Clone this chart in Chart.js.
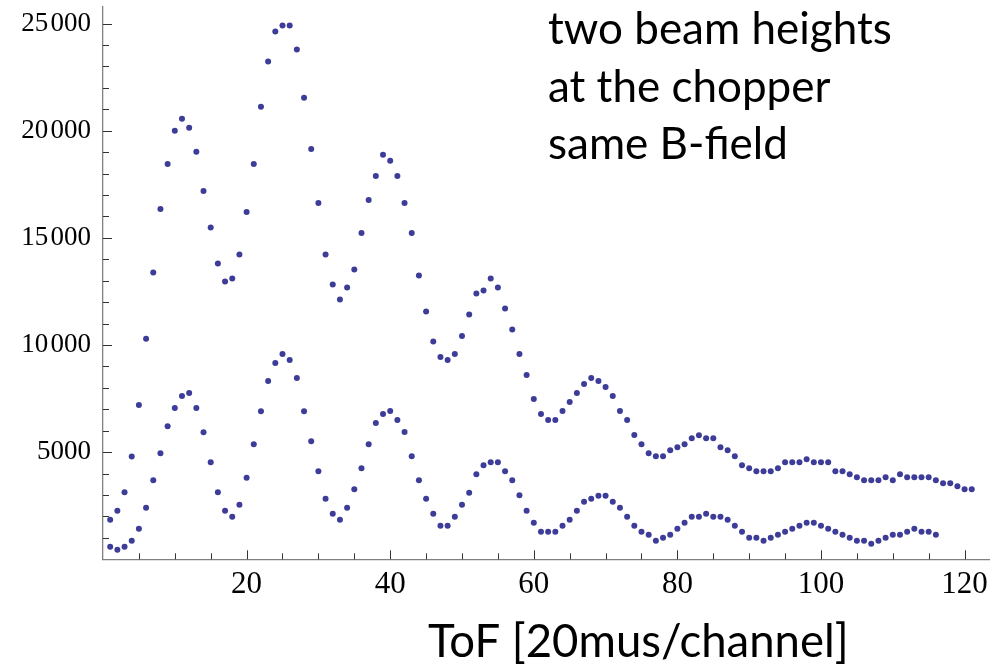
<!DOCTYPE html>
<html>
<head>
<meta charset="utf-8">
<script src="https://cdn.jsdelivr.net/npm/chart.js@4.4.1/dist/chart.umd.min.js"></script>
<style>
html, body { margin: 0; padding: 0; background: #fff; }
</style>
</head>
<body>
<canvas id="grafico" width="1003" height="667"></canvas>
<script>
// contagens por canal (canal 1, 2, 3, ...)
const feixeAlto = [
  1850, 2270, 3130, 4800, 7200, 10290, 13380, 16340, 18450, 20000,
  20560, 20140, 19020, 17180, 15480, 13800, 12960, 13100, 14220, 16200,
  18450, 21120, 23230, 24630, 24910, 24910, 23790, 21540, 19150, 16630,
  14220, 12820, 12120, 12680, 13520, 15220, 16760, 17880, 18880, 18600,
  17880, 16620, 15220, 13240, 11560, 10160, 9440, 9300, 9580, 10420,
  11420, 12400, 12540, 13100, 12680, 11700, 10720, 9580, 8600, 7480,
  6780, 6500, 6500, 6920, 7340, 7760, 8180, 8460, 8320, 8040,
  7620, 6920, 6500, 5800, 5370, 4950, 4810, 4810, 5090, 5230,
  5370, 5650, 5790, 5650, 5650, 5230, 5090, 4810, 4390, 4250,
  4110, 4110, 4110, 4250, 4530, 4530, 4530, 4670, 4530, 4530,
  4530, 4110, 4110, 3970, 3830, 3690, 3690, 3690, 3830, 3690,
  3970, 3830, 3830, 3830, 3830, 3690, 3550, 3550, 3410, 3270,
  3270
];
const feixeBaixo = [
  590, 450, 590, 870, 1430, 2410, 3690, 4950, 6210, 7060,
  7620, 7760, 7060, 5930, 4530, 3130, 2270, 1990, 2550, 3810,
  5370, 6910, 8320, 9160, 9580, 9300, 8460, 6910, 5510, 4110,
  2830, 2130, 1850, 2410, 3270, 4250, 5370, 6360, 6780, 6920,
  6500, 5940, 4810, 3690, 2830, 2130, 1570, 1570, 1990, 2550,
  3110, 3970, 4390, 4530, 4530, 4110, 3690, 2990, 2270, 1710,
  1290, 1290, 1290, 1570, 1850, 2270, 2690, 2830, 2970, 2970,
  2690, 2410, 1990, 1570, 1290, 1150, 870, 1010, 1150, 1430,
  1710, 1990, 1990, 2130, 1990, 1990, 1850, 1570, 1290, 1010,
  1010, 870, 1010, 1150, 1290, 1430, 1570, 1710, 1710, 1570,
  1430, 1290, 1150, 1010, 870, 870, 730, 870, 1010, 1150,
  1150, 1290, 1430, 1290, 1290, 1150
];

const xTicks = [20, 40, 60, 80, 100, 120];
const xTickLabels = ['20', '40', '60', '80', '100', '120'];
const yTicks = [5000, 10000, 15000, 20000, 25000];
const yTickLabels = ['5000', '10\u200A000', '15\u200A000', '20\u200A000', '25\u200A000'];
const xMinor = 5;
const yMinor = 1000;

const tituloX = 'ToF [20mus/channel]';
const nota = ['two beam heights', 'at the chopper', 'same B-field'];

const corPontos = 'rgb(61, 61, 153)';

function pontos(arr) {
    return arr.map((v, i) => ({ x: i + 1, y: v }));
}

// marcas dos eixos (para dentro, como no Mathematica) + textos
const decoracao = {
    id: 'decoracao',
    afterDraw(chart) {
        const ctx = chart.ctx;
        const x = chart.scales.x;
        const y = chart.scales.y;
        const x0 = x.getPixelForValue(0);
        const y0 = y.getPixelForValue(0);

        ctx.save();
        ctx.strokeStyle = '#333';
        ctx.lineWidth = 1;
        ctx.beginPath();
        for (let v = xMinor; v <= x.max; v += xMinor) {
            const px = Math.round(x.getPixelForValue(v)) + 0.5;
            const len = xTicks.includes(v) ? 9 : 6;
            ctx.moveTo(px, y0);
            ctx.lineTo(px, y0 - len);
        }
        for (let v = yMinor; v <= y.max; v += yMinor) {
            const py = Math.round(y.getPixelForValue(v)) + 0.5;
            const len = yTicks.includes(v) ? 9 : 6;
            ctx.moveTo(x0, py);
            ctx.lineTo(x0 + len, py);
        }
        ctx.stroke();

        ctx.fillStyle = '#000';
        ctx.textBaseline = 'alphabetic';
        ctx.textAlign = 'left';
        ctx.font = '44px Lato';
        nota.forEach((t, i) => ctx.fillText(t, 548, 44 + i * 57.5));
        ctx.font = '45.5px Lato';
        ctx.fillText(tituloX, 428, 657);
        ctx.restore();
    }
};

const ctx = document.getElementById('grafico').getContext('2d');
const grafico = new Chart(ctx, {
    type: 'scatter',
    data: {
        datasets: [
            {
                label: 'alto',
                data: pontos(feixeAlto),
                backgroundColor: corPontos,
                borderWidth: 0,
                pointStyle: 'circle',
                pointRadius: 3
            },
            {
                label: 'baixo',
                data: pontos(feixeBaixo),
                backgroundColor: corPontos,
                borderWidth: 0,
                pointStyle: 'circle',
                pointRadius: 3
            }
        ]
    },
    options: {
        responsive: false,
        animation: false,
        layout: { padding: { top: 7, right: 14, bottom: 0, left: 0 } },
        plugins: {
            legend: { display: false },
            tooltip: { enabled: false }
        },
        scales: {
            x: {
                type: 'linear',
                min: 0,
                max: 123.4,
                grid: { display: true, drawOnChartArea: false, drawTicks: false },
                border: { display: true, color: '#808080', width: 1.3 },
                afterBuildTicks: function (s) {
                    s.ticks = xTicks.map(v => ({ value: v }));
                },
                ticks: {
                    autoSkip: false,
                    maxRotation: 0,
                    padding: 7,
                    color: '#000',
                    font: { family: 'Liberation Serif', size: 31 },
                    callback: function (v) {
                        const i = xTicks.indexOf(v);
                        return i >= 0 ? xTickLabels[i] : '';
                    }
                },
                afterFit: function (s) {
                    s.height = 107.7;
                    s.paddingLeft = 0;
                    s.paddingRight = 0;
                }
            },
            y: {
                type: 'linear',
                min: 0,
                max: 25770,
                grid: { display: true, drawOnChartArea: false, drawTicks: false },
                border: { display: true, color: '#808080', width: 1.3 },
                afterBuildTicks: function (s) {
                    s.ticks = yTicks.map(v => ({ value: v }));
                },
                ticks: {
                    autoSkip: false,
                    padding: 12,
                    color: '#000',
                    font: { family: 'Liberation Serif', size: 27 },
                    callback: function (v) {
                        const i = yTicks.indexOf(v);
                        return i >= 0 ? yTickLabels[i] : '';
                    }
                },
                afterFit: function (s) {
                    s.width = 103;
                    s.paddingTop = 0;
                    s.paddingBottom = 0;
                }
            }
        }
    },
    plugins: [decoracao]
});
</script>
</body>
</html>
